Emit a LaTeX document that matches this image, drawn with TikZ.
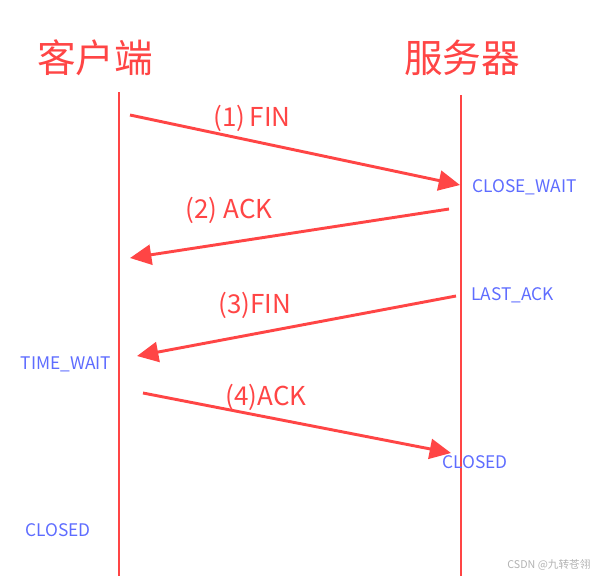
\documentclass[tikz,border=0pt]{standalone}
\usepackage{fontspec}
\setmainfont{Noto Sans CJK SC}
\usetikzlibrary{arrows.meta}
\definecolor{msgred}{HTML}{FF4545}
\definecolor{stateblue}{HTML}{5E6CFF}

\begin{document}
\begin{tikzpicture}[x=0.75pt, y=-0.75pt,
		lifeline/.style={line width=1.9pt, color=msgred},
		msg/.style={line width=2.2pt, color=msgred, -{Triangle[length=16pt, width=15pt]}},
		msglabel/.style={text=msgred, font=\fontsize{19.5}{22}\selectfont, inner sep=0pt},
		title/.style={text=msgred, font=\fontsize{29}{32}\selectfont, inner sep=0pt},
		state/.style={text=stateblue, font=\fontsize{13}{15}\selectfont, inner sep=0pt}]
		%%%%% START %%%%%
		
		\useasboundingbox (0, 0) rectangle (593, 576);
		
		\node[title] (client) at (95, 58) {客户端};
		\node[title] (server) at (462, 58) {服务器};
		
		\coordinate (ctop) at (119, 92);
		\coordinate (cbot) at (119, 576);
		\coordinate (stop) at (461, 95);
		\coordinate (sbot) at (461, 576);
		\draw[lifeline] (ctop) -- (cbot);
		\draw[lifeline] (stop) -- (sbot);
		
		\coordinate (fin1a) at (130, 115);
		\coordinate (fin1b) at (460, 185);
		\coordinate (ack2a) at (449, 209);
		\coordinate (ack2b) at (130, 258);
		\coordinate (fin3a) at (456, 296);
		\coordinate (fin3b) at (137, 356);
		\coordinate (ack4a) at (143, 393);
		\coordinate (ack4b) at (451, 453);
		
		\draw[msg] (fin1a) -- (fin1b);
		\draw[msg] (ack2a) -- (ack2b);
		\draw[msg] (fin3a) -- (fin3b);
		\draw[msg] (ack4a) -- (ack4b);
		
		\node[msglabel] (fin1) at (252, 118) {(1)\,FIN};
		\node[msglabel] (ack2) at (229, 210) {(2) ACK};
		\node[msglabel] (fin3) at (255, 305) {(3)FIN};
		\node[msglabel] (ack4) at (266, 397) {(4)ACK};
		
		\node[state, anchor=west] (closewait) at (472, 187) {CLOSE\_WAIT};
		\node[state, anchor=west] (lastack) at (471, 295) {LAST\_ACK};
		\node[state] (timewait) at (66, 364) {TIME\_WAIT};
		\node[state, anchor=west] (sclosed) at (442, 462) {CLOSED};
		\node[state] (cclosed) at (58, 530) {CLOSED};
		
		\node[text=black!30, font=\fontsize{8}{9}\selectfont, inner sep=0pt] (mark) at (549, 565) {CSDN @九转苍翎};
		
		%%%%% END %%%%%
\end{tikzpicture}
\end{document}
